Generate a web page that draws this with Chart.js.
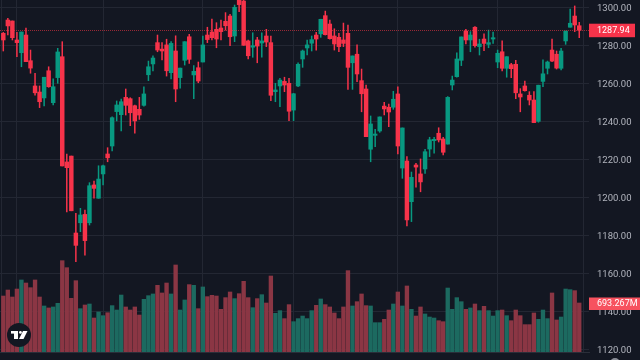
<!DOCTYPE html>
<html>
<head>
<meta charset="utf-8">
<style>
html,body{margin:0;padding:0;background:#131722;overflow:hidden}
canvas{display:block}
</style>
<script src="https://cdn.jsdelivr.net/npm/chart.js@4/dist/chart.umd.min.js"></script>
</head>
<body>
<canvas id="c" width="640" height="360"></canvas>
<script>
const opens=[1286.3,1293.3,1292.8,1282.8,1276.1,1285.4,1271.9,1258.6,1255.4,1252.3,1266.6,1249.8,1263.0,1274.0,1218.6,1221.7,1181.2,1186.6,1191.0,1186.6,1206.5,1199.5,1212.3,1222.8,1227.0,1245.1,1243.5,1252.6,1251.9,1248.2,1246.3,1248.4,1264.5,1270.2,1281.4,1278.0,1280.2,1265.6,1277.0,1263.0,1272.1,1284.5,1264.4,1268.2,1271.2,1285.4,1287.0,1288.4,1289.1,1292.6,1295.4,1284.9,1305.0,1303.3,1282.3,1279.0,1282.8,1281.2,1284.9,1281.4,1255.6,1258.6,1261.0,1260.0,1245.9,1258.6,1272.8,1278.6,1281.1,1285.4,1286.0,1295.6,1291.2,1284.9,1284.2,1282.8,1286.3,1270.8,1275.3,1261.4,1257.0,1225.3,1232.6,1234.9,1248.0,1247.4,1247.4,1254.4,1215.4,1219.1,1197.7,1217.0,1212.3,1214.9,1225.4,1229.8,1233.7,1230.7,1228.0,1259.1,1263.5,1272.1,1287.5,1282.8,1289.5,1279.3,1283.3,1280.5,1283.3,1271.2,1276.6,1267.9,1269.8,1270.0,1254.4,1258.6,1253.7,1251.2,1240.0,1261.0,1267.9,1277.5,1275.3,1267.9,1282.3,1289.5,1295.4,1290.3]
const highs=[1286.8,1294.2,1292.8,1286.8,1287.0,1289.0,1277.5,1265.3,1258.6,1263.2,1268.7,1262.3,1278.4,1281.9,1222.8,1221.7,1191.6,1194.2,1193.3,1207.7,1208.6,1216.6,1217.0,1226.1,1242.4,1250.7,1251.7,1257.0,1252.4,1248.6,1252.6,1258.2,1271.7,1274.4,1285.4,1281.4,1283.2,1281.9,1285.0,1268.0,1281.9,1285.8,1269.3,1271.2,1284.9,1289.5,1293.8,1291.9,1293.3,1297.2,1296.3,1301.2,1309.0,1308.0,1282.8,1286.6,1284.2,1286.6,1288.4,1284.9,1260.0,1262.6,1263.2,1262.6,1254.7,1270.8,1277.5,1282.8,1284.9,1286.8,1293.7,1298.0,1293.3,1288.7,1286.3,1291.7,1290.7,1274.4,1280.2,1267.5,1259.1,1242.8,1235.8,1242.3,1250.0,1249.0,1255.8,1258.2,1236.5,1221.4,1213.3,1217.9,1220.2,1225.3,1231.6,1231.6,1236.6,1231.6,1253.0,1263.8,1276.1,1284.4,1288.4,1287.2,1289.8,1283.2,1286.0,1288.0,1287.0,1277.5,1282.3,1274.0,1270.5,1272.1,1257.2,1261.2,1255.6,1255.6,1259.0,1272.3,1271.7,1283.3,1277.0,1278.4,1287.5,1299.0,1300.7,1292.1]
const lows=[1277.0,1285.4,1282.8,1274.0,1268.7,1271.4,1265.3,1253.8,1247.2,1248.1,1257.9,1248.6,1260.0,1216.5,1192.3,1192.9,1166.1,1181.9,1169.6,1185.4,1199.5,1199.5,1206.5,1218.7,1224.4,1240.2,1234.9,1243.3,1237.7,1233.8,1241.0,1248.0,1261.4,1266.5,1276.6,1272.3,1263.8,1262.3,1250.3,1257.4,1269.6,1270.5,1251.9,1260.3,1271.2,1281.4,1282.8,1278.7,1282.8,1288.0,1279.8,1281.9,1297.7,1280.0,1272.8,1273.7,1270.8,1273.7,1279.3,1250.8,1250.3,1247.7,1255.6,1240.3,1240.3,1258.2,1268.4,1274.9,1277.0,1277.5,1284.2,1285.4,1283.2,1277.5,1276.6,1279.3,1256.8,1256.8,1260.8,1245.0,1231.9,1218.7,1226.6,1234.2,1243.3,1237.2,1246.3,1222.8,1210.0,1184.9,1187.2,1205.3,1202.9,1212.6,1221.4,1223.2,1229.1,1222.3,1228.0,1256.5,1263.2,1269.3,1280.7,1276.6,1279.0,1274.9,1277.2,1278.7,1281.0,1268.2,1266.5,1263.2,1263.0,1251.9,1245.0,1255.9,1248.6,1239.3,1239.5,1258.2,1264.9,1271.4,1267.5,1267.0,1280.5,1289.5,1287.2,1284.0]
const closes=[1282.8,1290.2,1284.0,1281.4,1287.0,1271.4,1268.0,1255.0,1250.3,1263.2,1258.2,1258.2,1276.5,1216.5,1215.6,1192.9,1174.7,1190.7,1177.2,1206.1,1204.7,1209.6,1216.6,1220.8,1241.9,1248.6,1250.3,1248.4,1244.5,1240.2,1243.3,1254.4,1268.7,1273.3,1277.5,1277.0,1266.6,1281.0,1257.0,1268.0,1281.9,1272.6,1266.3,1261.2,1280.2,1283.0,1284.0,1283.3,1287.2,1290.3,1284.5,1300.0,1301.4,1280.0,1274.5,1279.8,1279.6,1282.3,1281.7,1253.7,1256.5,1261.7,1259.1,1245.3,1254.5,1270.0,1277.0,1280.2,1283.0,1283.3,1293.7,1285.6,1283.5,1280.7,1279.3,1281.0,1268.4,1274.4,1264.9,1254.5,1231.9,1238.6,1233.3,1242.3,1246.5,1244.9,1251.6,1227.0,1236.5,1188.1,1210.5,1215.9,1208.1,1224.0,1230.3,1230.5,1230.2,1223.7,1252.6,1261.7,1272.8,1284.4,1282.8,1285.4,1279.8,1280.7,1281.0,1281.4,1284.0,1275.8,1267.9,1274.0,1267.7,1255.0,1252.8,1256.1,1251.2,1239.3,1259.0,1265.0,1271.2,1271.7,1268.0,1277.0,1287.5,1291.6,1290.7,1287.94]
const volumes=[792,877,778,891,1019,976,910,1019,778,651,623,637,689,1292,1193,759,1009,613,665,679,481,566,514,556,656,594,806,637,594,637,523,745,797,821,943,835,976,821,1231,594,736,953,943,613,920,783,802,792,604,769,849,755,825,1000,769,627,755,811,693,1075,547,585,472,670,429,472,509,472,585,660,750,670,637,552,472,637,1151,651,712,821,656,651,415,415,462,594,679,849,651,934,604,509,637,538,495,481,443,429,905,604,769,712,604,623,679,585,646,585,509,585,594,514,443,594,514,387,387,552,462,594,472,835,453,495,891,882,868,693.267]
const priceTicks=[1120,1140,1160,1180,1200,1220,1240,1260,1280,1300]
const timeTicks=[-0.5,3,22,44,64,87,109,128]
const timeLabels=['','Fri 10 Jan','Fri 14 Feb','Fri 14 Mar','Fri 11 Apr','Fri 16 May','Fri 20 Jun','Fri 18 Jul']

const UP='#089981',DOWN='#f7334a',UPVOL='#1c6a60',DOWNVOL='#8b3644'
const GRID='#232733',TXT='#b2b5be'
const isUp=i=>closes[i]>=opens[i]

const nopad=s=>{s.paddingLeft=0;s.paddingRight=0;s.paddingTop=0;s.paddingBottom=0}

const overlay={
id:'overlay',
afterDatasetsDraw(ch){
let g=ch.ctx,a=ch.chartArea,y=ch.scales.y
let last=closes.length-1
let py=Math.round(y.getPixelForValue(closes[last]))
g.save()
g.strokeStyle='#f23645'
g.globalAlpha=.6
g.lineWidth=1
g.setLineDash([1,1])
g.beginPath();g.moveTo(a.left,py+.5);g.lineTo(a.right,py+.5);g.stroke()
g.setLineDash([])
g.globalAlpha=1
// logo
g.fillStyle='#131722'
g.beginPath();g.arc(19,335,12,0,Math.PI*2);g.fill()
g.fillStyle='#fff'
g.fillRect(11,331,7,2.6)
g.fillRect(14,331,4,8)
g.beginPath();g.arc(20.4,332.4,1.4,0,Math.PI*2);g.fill()
g.beginPath();g.moveTo(23,331);g.lineTo(27.5,331);g.lineTo(23.5,339);g.lineTo(19,339);g.closePath();g.fill()
g.restore()
},
afterDraw(ch){
let g=ch.ctx,y=ch.scales.y
let last=closes.length-1
let py=y.getPixelForValue(closes[last])
g.save()
g.font='9px Roboto'
g.textBaseline='middle'
g.textAlign='left'
g.fillStyle='#f7334a'
g.fillRect(589,py-6.5,46,13.5)
g.fillStyle='#fff'
g.fillText(closes[last].toFixed(2),597,py+.5)
let vy=ch.scales.vol.getPixelForValue(volumes[last])
g.fillStyle='#f7525f'
g.fillRect(589,vy-5.5,51,12.5)
g.fillStyle='#fff'
g.fillText(volumes[last].toFixed(3)+'M',597,vy+.5)
// gear tip, mostly cut off by the bottom edge
g.fillStyle='#8a8d96'
g.beginPath();g.arc(615,363,5,0,Math.PI*2);g.fill()
g.restore()
}
}

new Chart(document.getElementById('c'),{
type:'bar',
plugins:[overlay],
data:{datasets:[
{label:'Volume',yAxisID:'vol',order:3,grouped:false,barThickness:3.7,
 data:volumes.map((v,i)=>({x:i,y:v})),
 backgroundColor:volumes.map((v,i)=>isUp(i)?UPVOL:DOWNVOL)},
{label:'Wick',yAxisID:'y',order:2,grouped:false,barThickness:.85,
 data:highs.map((v,i)=>({x:i,y:[lows[i],v]})),
 backgroundColor:highs.map((v,i)=>isUp(i)?UP:DOWN)},
{label:'Body',yAxisID:'y',order:1,grouped:false,barThickness:3.8,
 data:opens.map((v,i)=>({x:i,y:[v,closes[i]]})),
 backgroundColor:opens.map((v,i)=>isUp(i)?UP:DOWN)}
]},
options:{
responsive:false,
animation:false,
layout:{padding:0},
plugins:{legend:{display:false},tooltip:{enabled:false}},
scales:{
x:{type:'linear',offset:false,min:-0.728,max:129.15,
 grid:{color:GRID,offset:false,drawTicks:false},
 border:{display:true,color:'#2a2e39'},
 afterBuildTicks(s){s.ticks=timeTicks.map(v=>({value:v}))},
 afterFit(s){s.height=8;nopad(s)},
 ticks:{color:TXT,font:{family:'Roboto',size:11},padding:7,autoSkip:false,maxRotation:0,
  callback:v=>timeLabels[timeTicks.indexOf(v)]}
},
y:{type:'linear',position:'right',min:1118.58,max:1303.84,
 grid:{color:GRID,drawTicks:false},
 border:{display:false},
 afterBuildTicks(s){s.ticks=priceTicks.map(v=>({value:v}))},
 afterFit(s){s.width=51;nopad(s)},
 ticks:{color:TXT,font:{family:'Roboto',size:9.5},padding:8,labelOffset:1,
  callback:v=>v.toFixed(2)}
},
vol:{type:'linear',display:false,position:'right',min:0,max:4980}
}
}
})
</script>
</body>
</html>
